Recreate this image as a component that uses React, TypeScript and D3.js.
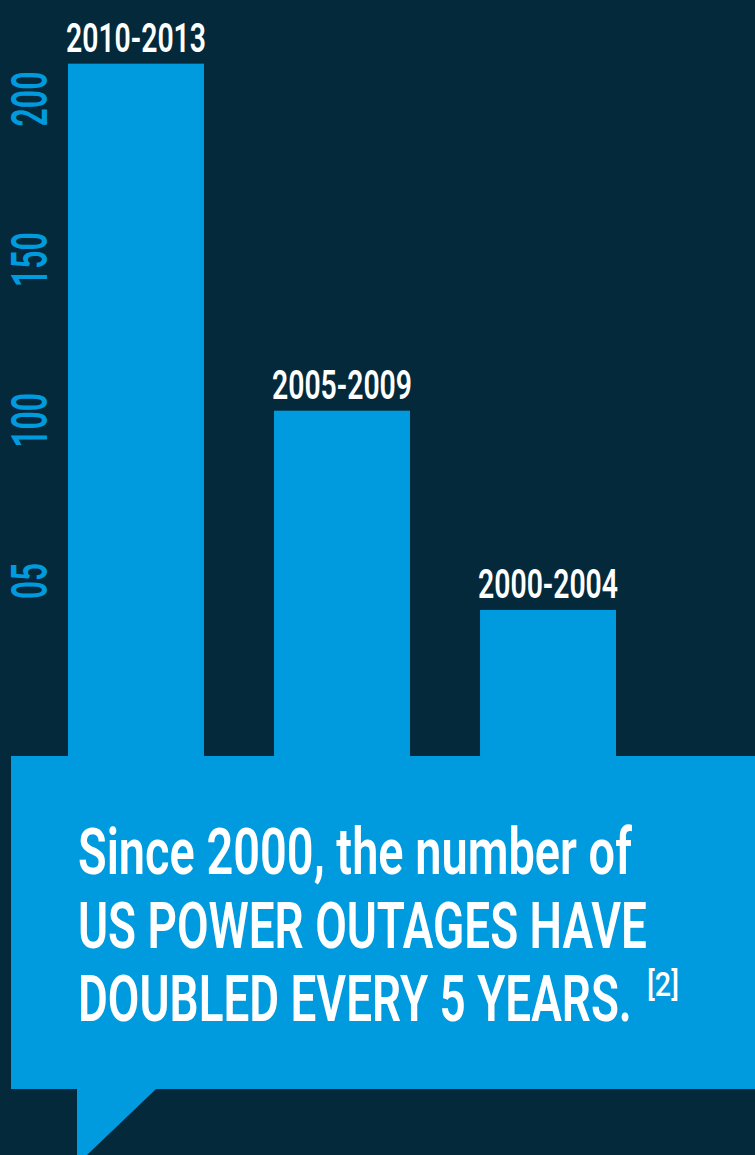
import React, { useEffect, useRef } from "react";
import * as d3 from "d3";

const periods = ["2010-2013", "2005-2009", "2000-2004"];
const outages = [211, 103, 41];
const tickValues = [50, 100, 150, 200];
const tickLabels = ["05", "100", "150", "200"];
const calloutLines = [
    "Since 2000, the number of",
    "US POWER OUTAGES HAVE",
    "DOUBLED EVERY 5 YEARS.",
];
const footnote = "[2]";

// squeeze a text horizontally so it spans the given width (condensed look)
function fit(sel, w, anchorX, anchorY, rotate = 0) {
    sel.each(function (d, i) {
        const node = this;
        const natural = node.getComputedTextLength();
        const target = typeof w === "function" ? w(d, i) : w;
        const sx = natural > 0 ? target / natural : 1;
        const ax = typeof anchorX === "function" ? anchorX(d, i) : anchorX;
        const ay = typeof anchorY === "function" ? anchorY(d, i) : anchorY;
        d3.select(node).attr(
            "transform",
            `translate(${ax},${ay}) rotate(${rotate}) scale(${sx},1)`
        );
    });
}

const App = () => {
    const ref = useRef(null);

    useEffect(() => {
        const width = 755;
        const height = 1155;
        const bg = "#03293b";
        const blue = "#009ade";
        const font = "Roboto, 'DejaVu Sans', sans-serif";

        const svg = d3.select(ref.current);
        svg.selectAll("*").remove();
        svg.attr("width", width).attr("height", height);

        svg.append("rect")
            .attr("width", width)
            .attr("height", height)
            .attr("fill", bg);

        // Scales
        const x = d3
            .scaleBand()
            .domain(periods)
            .range([68, 616])
            .paddingInner(0.34)
            .paddingOuter(0);

        const y = d3
            .scaleLinear()
            .domain([50, 200])
            .range([581, 99]);

        const calloutTop = 756;

        // Bars
        svg.append("g")
            .attr("fill", blue)
            .selectAll("rect")
            .data(periods)
            .join("rect")
            .attr("x", (d) => x(d))
            .attr("y", (d, i) => y(outages[i]))
            .attr("width", x.bandwidth())
            .attr("height", (d, i) => calloutTop - y(outages[i]));

        // Bar labels
        svg.append("g")
            .selectAll("text")
            .data(periods)
            .join("text")
            .attr("text-anchor", "middle")
            .attr("fill", "#ffffff")
            .attr("font-family", font)
            .attr("font-weight", 600)
            .attr("font-size", 40)
            .text((d) => d)
            .call(
                fit,
                140,
                (d) => x(d) + x.bandwidth() / 2,
                (d, i) => y(outages[i]) - 12
            );

        // Y axis labels (rotated)
        svg.append("g")
            .selectAll("text")
            .data(tickValues)
            .join("text")
            .attr("text-anchor", "middle")
            .attr("fill", blue)
            .attr("font-family", font)
            .attr("font-weight", 600)
            .attr("font-size", 50)
            .text((d, i) => tickLabels[i])
            .call(
                fit,
                (d, i) => (tickLabels[i].length === 2 ? 36 : 55),
                47,
                (d) => y(d),
                -90
            );

        // Callout box
        const callout = [
            [11, calloutTop],
            [755, calloutTop],
            [755, 1089],
            [156, 1089],
            [87, 1155],
            [77, 1155],
            [77, 1089],
            [11, 1089],
        ];
        svg.append("path")
            .attr("d", d3.line()(callout) + "Z")
            .attr("fill", blue);

        const lineWidths = [554, 569, 554];
        svg.append("g")
            .selectAll("text")
            .data(calloutLines)
            .join("text")
            .attr("fill", "#ffffff")
            .attr("font-family", font)
            .attr("font-weight", 600)
            .attr("font-size", 64)
            .text((d) => d)
            .call(fit, (d, i) => lineWidths[i], 78, (d, i) => 874 + i * 73.5);

        svg.append("text")
            .attr("fill", "#ffffff")
            .attr("font-family", font)
            .attr("font-weight", 500)
            .attr("font-size", 33)
            .text(footnote)
            .call(fit, 32, 647, 996);
    }, []);

    return (
        <svg
            ref={ref}
            style={{ position: "absolute", left: 0, top: 0, display: "block" }}
        ></svg>
    );
};

export default App;
